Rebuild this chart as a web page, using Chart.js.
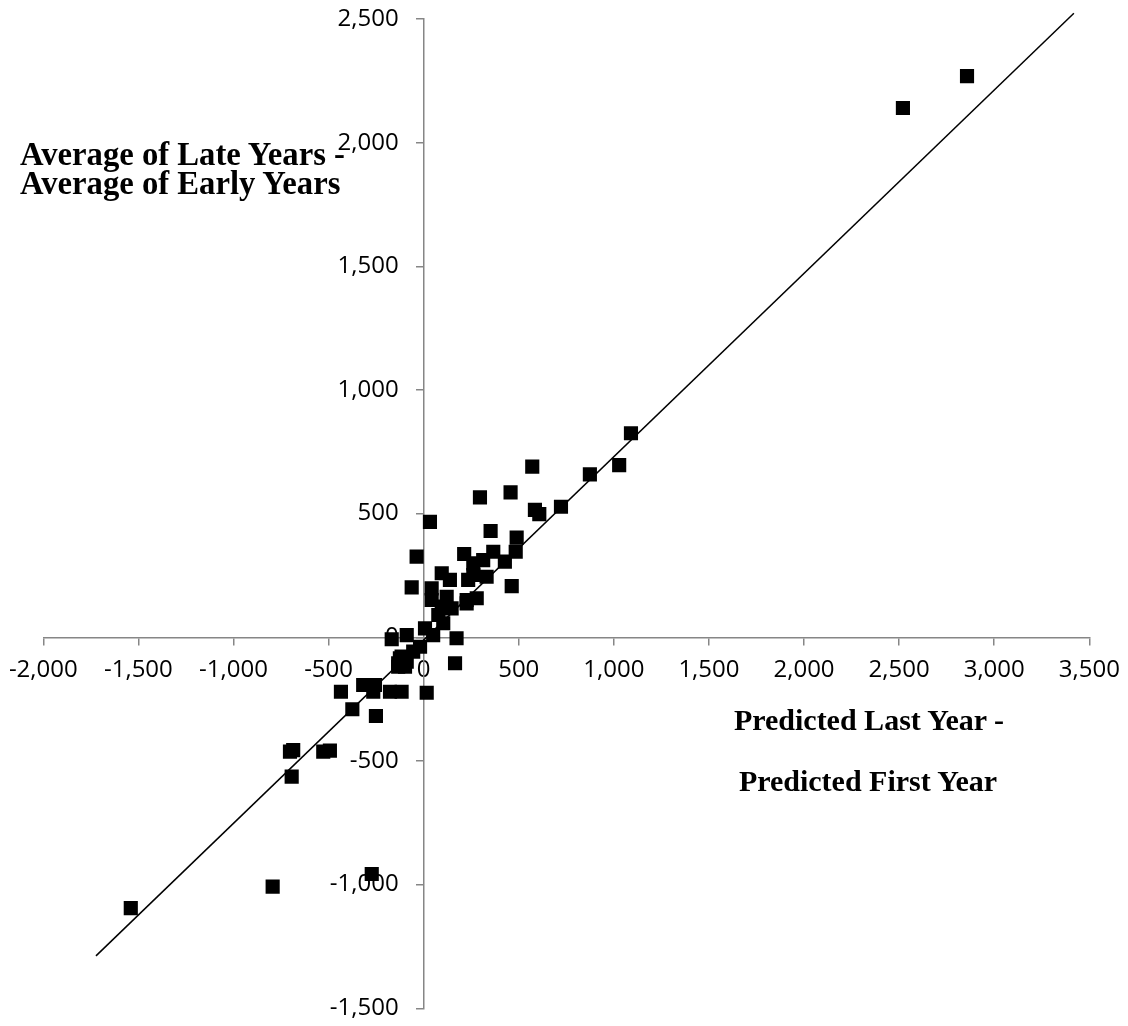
<!DOCTYPE html>
<html>
<head>
<meta charset="utf-8">
<script src="https://cdn.jsdelivr.net/npm/chart.js@4.4.1/dist/chart.umd.min.js"></script>
<style>
  html, body { margin: 0; padding: 0; background: #fff; }
  #wrap { position: relative; width: 1128px; height: 1026px; }
  .note {
    position: absolute;
    font-family: "Liberation Serif", "Times New Roman", serif;
    font-weight: bold;
    line-height: 29px;
    color: #000;
    white-space: nowrap;
  }
  .centered { transform: translateX(-50%); text-align: center; }
</style>
</head>
<body>
<div id="wrap">
  <canvas id="chart"></canvas>
  <div class="note" style="left:20px; top:140px; font-size:32.7px;">Average of Late Years -<br>Average of Early Years</div>
  <div class="note centered" style="left:869px; top:705px; font-size:30px;">Predicted Last Year -</div>
  <div class="note centered" style="left:868px; top:766px; font-size:30px;">Predicted First Year</div>
</div>
<script>
// one entry per marker: predicted change (x) and observed change (y)
const predictedChange = [
  2857, 2520, 1090, 1028, 874, 571, 722, 585, 608, 457, 296, 33, 352, 489, 484, 366, 213,
  -37, 427, 313, 261, 261, 331, 234, 463, 95, 138, -63, 42, 42, 121, 95, 147, 226, 279, 226,
  77, 103, 7, 50, 173, 165, -89, -168, -19, -55, -116, -134, -89,
  -125, -98, -134, -318, -256, -265, -177, -116, 16, -435, -375, -251,
  -703, -686, -528, -493, -694, -794, -273, -1540
];
const observedChange = [
  2269, 2140, 825, 696, 659, 690, 528, 515, 498, 586, 566, 467, 430, 403, 346, 346, 337,
  326, 306, 312, 299, 252, 245, 232, 207, 259, 232, 202, 198, 151, 164, 124, 117, 151, 158, 137,
  90, 57, 36, 9, -4, -105, 9, -8, -38, -58, -78, -105, -99,
  -85, -119, -119, -193, -193, -220, -220, -220, -224, -220, -291, -318,
  -462, -456, -462, -458, -563, -1008, -957, -1095
];

// trendline end points as drawn
const trendX = [-1723, 3419];
const trendY = [-1288, 2523];

const xTicks = [-2000, -1500, -1000, -500, 0, 500, 1000, 1500, 2000, 2500, 3000, 3500];
const yTicks = [-1500, -1000, -500, 0, 500, 1000, 1500, 2000, 2500];

const axisGrey = '#868686';
const tickFont = { family: 'Open Sans', size: 24 };
const fmt = v => Number(v).toLocaleString('en-US');

// axes sit inside the plot, so they must not take any room in the layout
const noRoom = s => {
  if (s.isHorizontal()) s.height = 0; else s.width = 0;
  s.paddingTop = s.paddingBottom = s.paddingLeft = s.paddingRight = 0;
};

// y labels of an axis placed at x = 0 are drawn flush against the line, push them left
const yLabelGap = {
  id: 'yLabelGap',
  beforeDraw(chart) {
    const items = chart.scales.y.getLabelItems(chart.chartArea);
    if (items._moved) return;
    items.forEach(it => { it.options.translation[0] -= 25; });
    items._moved = true;
  }
};

new Chart(document.getElementById('chart'), {
  type: 'scatter',
  data: {
    datasets: [
      {
        label: 'Points',
        data: predictedChange.map((x, i) => ({ x: x, y: observedChange[i] })),
        pointStyle: 'rect',
        pointRadius: 10,
        pointHoverRadius: 10,
        backgroundColor: '#000',
        borderWidth: 0
      },
      {
        label: 'Trend',
        data: trendX.map((x, i) => ({ x: x, y: trendY[i] })),
        showLine: true,
        borderColor: '#000',
        borderWidth: 1.5,
        pointRadius: 0,
        clip: false
      }
    ]
  },
  options: {
    responsive: true,
    maintainAspectRatio: false,
    animation: false,
    layout: { padding: { left: 43.3, right: 38.7, top: 19, bottom: 17.7 } },
    plugins: { legend: { display: false }, tooltip: { enabled: false } },
    scales: {
      x: {
        type: 'linear',
        min: -2000,
        max: 3500,
        position: { y: 0 },
        afterBuildTicks: s => { s.ticks = xTicks.map(v => ({ value: v })); },
        afterFit: noRoom,
        ticks: { font: tickFont, color: '#000', padding: 11, maxRotation: 0, autoSkip: false, callback: fmt },
        grid: { drawOnChartArea: false, tickLength: 7, color: axisGrey, lineWidth: 1.5 },
        border: { display: true, color: axisGrey, width: 1.5 }
      },
      y: {
        type: 'linear',
        min: -1500,
        max: 2500,
        position: { x: 0 },
        afterBuildTicks: s => { s.ticks = yTicks.map(v => ({ value: v })); },
        afterFit: noRoom,
        ticks: { font: tickFont, color: '#000', autoSkip: false, callback: fmt },
        grid: { drawOnChartArea: false, tickLength: 7, color: axisGrey, lineWidth: 1.5 },
        border: { display: true, color: axisGrey, width: 1.5 }
      }
    }
  },
  plugins: [yLabelGap]
});
</script>
</body>
</html>
